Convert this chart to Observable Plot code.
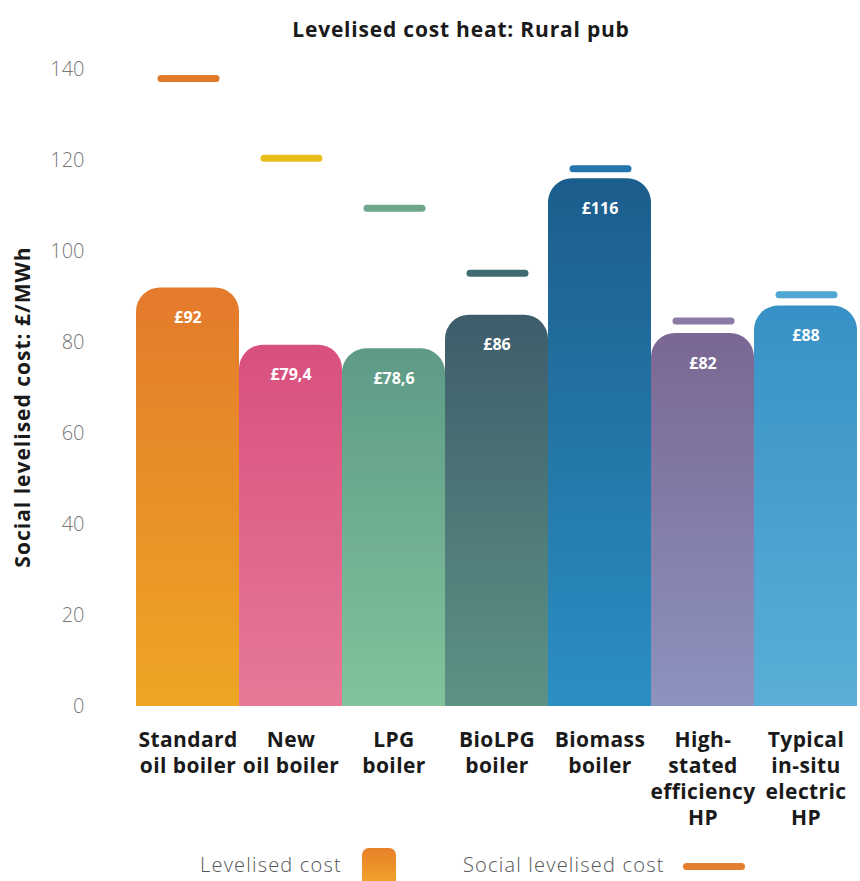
<!DOCTYPE html>
<html>
<head>
<meta charset="utf-8">
<script src="https://cdn.jsdelivr.net/npm/d3@7"></script>
<script src="https://cdn.jsdelivr.net/npm/@observablehq/plot@0.6"></script>
<style>
  html, body { margin: 0; padding: 0; background: #fff; }
  #wrap { position: relative; width: 860px; height: 881px; overflow: hidden; font-family: "Open Sans", sans-serif; }
  #title { position: absolute; top: 15px; left: 0; width: 922px; text-align: center; font-weight: 700; font-size: 21px; color: #1a1a1a; letter-spacing: 0.8px; }
  #chart { position: absolute; top: 50px; left: 0; }
  #ylabel { position: absolute; left: 22px; top: 407px; transform: translate(-50%, -50%) rotate(-90deg); white-space: nowrap; font-weight: 700; font-size: 21px; color: #1a1a1a; letter-spacing: 1px; }
  .leg { position: absolute; font-weight: 300; font-size: 20px; color: #555; white-space: nowrap; letter-spacing: 1.2px; }
  #sw1 { position: absolute; left: 362px; top: 848px; width: 34px; height: 40px; border-radius: 7px; background: linear-gradient(#E8802A, #F2A62A); }
  #sw2 { position: absolute; left: 683px; top: 863px; width: 62px; height: 7px; border-radius: 4px; background: #E47E2C; }
  #chart g[aria-label="x-axis tick label"] text { letter-spacing: 0.4px; }
</style>
</head>
<body>
<div id="wrap">
  <div id="title">Levelised cost heat: Rural pub</div>
  <div id="chart"></div>
  <div id="ylabel">Social levelised cost: £/MWh</div>
  <div class="leg" id="leg1" style="left:200px; top:851px;">Levelised cost</div>
  <div id="sw1"></div>
  <div class="leg" id="leg2" style="left:463px; top:851px;">Social levelised cost</div>
  <div id="sw2"></div>
</div>
<script>
// ---- data ----
const categories = [
  "Standard\noil boiler",
  "New\noil boiler",
  "LPG\nboiler",
  "BioLPG\nboiler",
  "Biomass\nboiler",
  "High-\nstated\nefficiency\nHP",
  "Typical\nin-situ\nelectric\nHP"
];
const levelisedCost = [92, 79.4, 78.6, 86, 116, 82, 88];
const socialLevelisedCost = [138, 120.5, 109.5, 95.2, 118.2, 84.7, 90.5];
const valueLabels = ["£92", "£79,4", "£78,6", "£86", "£116", "£82", "£88"];
const yTicks = [0, 20, 40, 60, 80, 100, 120, 140];

// ---- palette ----
const gradientTop =    ["#E47A2C", "#D8507E", "#5E9A87", "#3E5C6B", "#1B5D8C", "#7A6793", "#3891C6"];
const gradientBottom = ["#EEA923", "#E87C99", "#85C69C", "#5F9787", "#2C91C6", "#8E96C2", "#5DB1D9"];
const socialColors =   ["#E07A2B", "#E9BE1B", "#6FA68C", "#3E6C70", "#2475AD", "#8A7BA6", "#4FA8D2"];

const data = categories.map((c, i) => ({
  category: c,
  value: levelisedCost[i],
  social: socialLevelisedCost[i],
  label: valueLabels[i],
  fill: `url(#barGrad${i})`,
  stroke: socialColors[i]
}));

const chart = Plot.plot({
  width: 860,
  height: 790,
  marginTop: 19,
  marginBottom: 134,
  marginLeft: 133,
  marginRight: 0,
  style: { fontFamily: "Open Sans, sans-serif", background: "transparent", overflow: "visible" },
  x: { domain: categories, padding: 0, axis: null },
  y: { domain: [0, 140], axis: null },
  color: { type: "identity" },
  marks: [
    Plot.barY(data, { x: "category", y1: -6, y2: "value", fill: "fill", rx: 24, clip: true }),
    Plot.tickY(data, { x: "category", y: "social", stroke: "stroke", strokeWidth: 7, strokeLinecap: "round", insetLeft: 25, insetRight: 23 }),
    Plot.text(data, { x: "category", y: "value", text: "label", dy: 30, fill: "#fff", fontWeight: "bold", fontSize: 16 }),
    Plot.axisY({ ticks: yTicks, tickSize: 0, tickPadding: 49, fontSize: 20, fontWeight: 300, fill: "#777", label: null }),
    Plot.axisX({ tickSize: 0, tickPadding: 22, fontSize: 21, fontWeight: "bold", fill: "#1a1a1a", lineHeight: 1.24, label: null })
  ]
});

// gradient definitions for the bars
const svg = d3.select(chart.tagName.toLowerCase() === "svg" ? chart : chart.querySelector("svg"));
const defs = svg.insert("defs", ":first-child");
categories.forEach((c, i) => {
  const g = defs.append("linearGradient").attr("id", `barGrad${i}`).attr("x1", 0).attr("y1", 0).attr("x2", 0).attr("y2", 1);
  g.append("stop").attr("offset", "0%").attr("stop-color", gradientTop[i]);
  g.append("stop").attr("offset", "100%").attr("stop-color", gradientBottom[i]);
});

document.getElementById("chart").appendChild(chart);
</script>
</body>
</html>
